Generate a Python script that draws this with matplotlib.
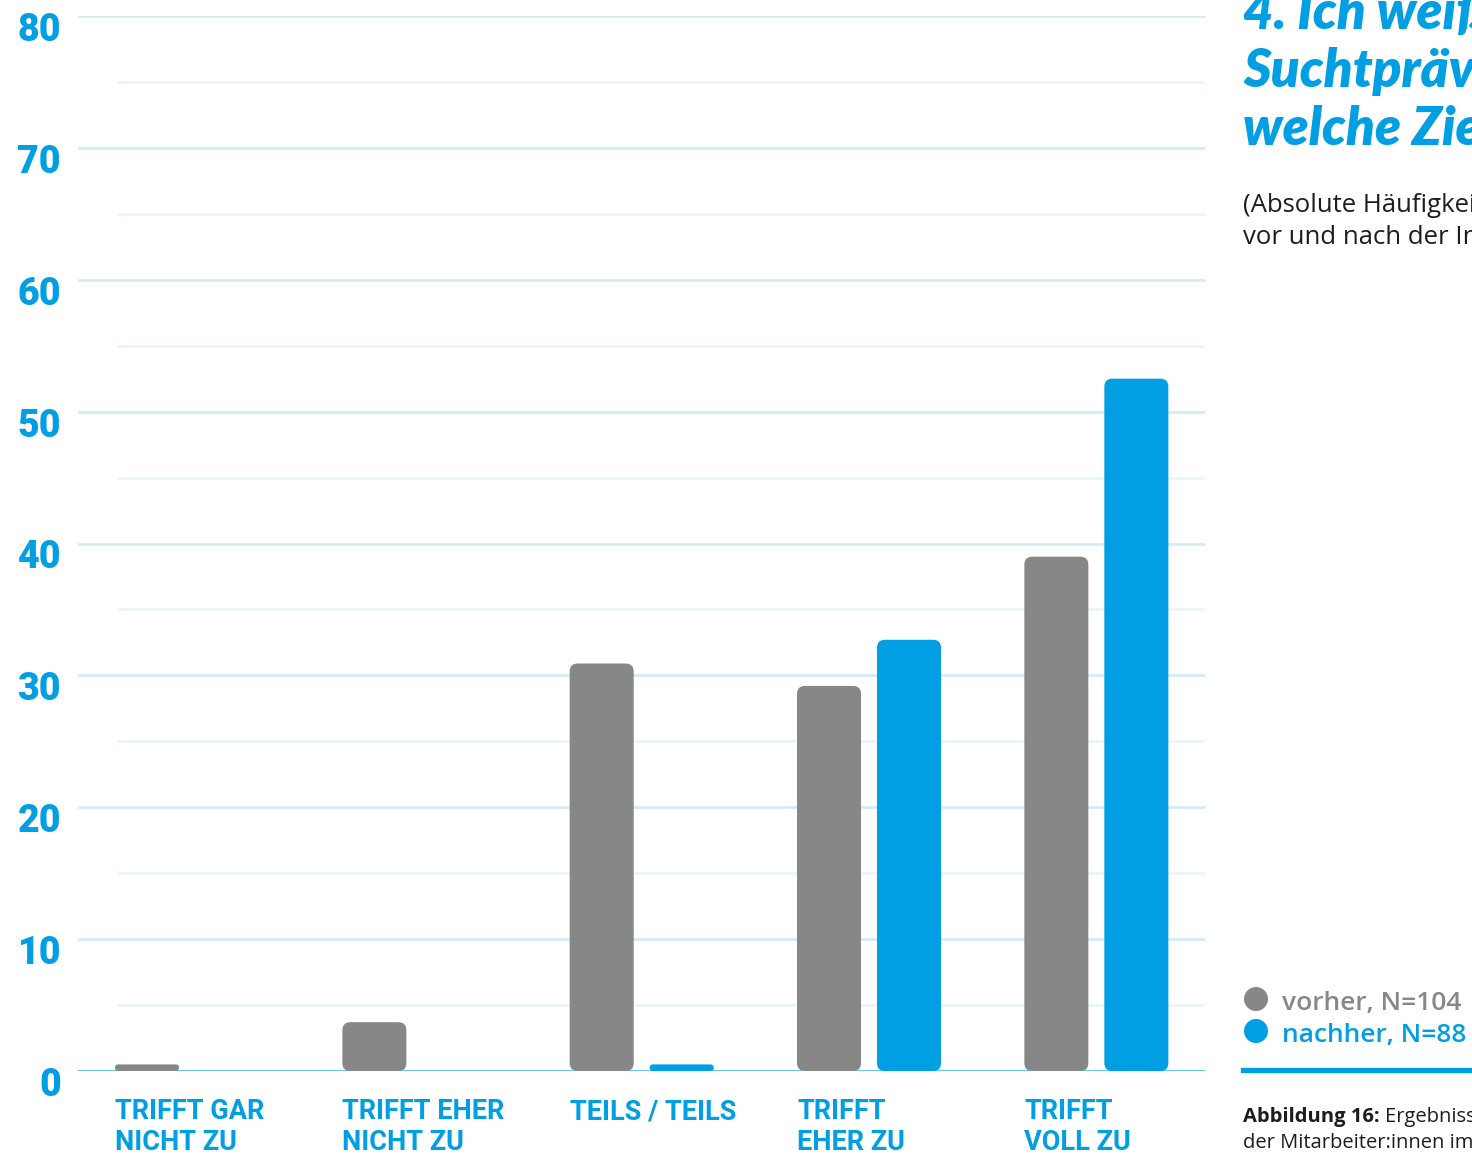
import matplotlib
matplotlib.use("Agg")
import matplotlib.pyplot as plt
import matplotlib.transforms as mtransforms
from matplotlib.patches import FancyBboxPatch, Ellipse
import numpy as np

# data
categories = ["TRIFFT GAR\nNICHT ZU", "TRIFFT EHER\nNICHT ZU", "TEILS / TEILS",
              "TRIFFT\nEHER ZU", "TRIFFT\nVOLL ZU"]
vorher = [0.5, 3.7, 30.9, 29.2, 39.0]
nachher = [0, 0, 0.5, 32.7, 52.5]
yticks = [0, 10, 20, 30, 40, 50, 60, 70, 80]
legend_labels = ["vorher, N=104", "nachher, N=88"]

BLUE = "#009fe3"
GRAY = "#878787"
GRID = "#d4eaf8"
GRID_MINOR = "#e9f5fc"
BASE = "#6cc6ef"

W, H = 1472, 1155
fig = plt.figure(figsize=(W / 100, H / 100), dpi=100)
ax = fig.add_axes([78 / W, 84 / H, 1127 / W, 1055 / H])

x = np.arange(len(categories))
ax.set_xlim(-0.4796, 4.478)
ax.set_ylim(0, 80)
ax.axis("off")

# pixels per data unit
px_x = 1127 / (4.478 + 0.4796)
px_y = 1055 / 80.0

bar_w = 64 / px_x
off = 40 / px_x

# grid
for v in range(10, 81, 10):
    ax.axhline(v, color=GRID, lw=1.9, zorder=0)
for v in range(5, 80, 10):
    ax.axhline(v, xmin=40 / 1127, color=GRID_MINOR, lw=1.9, zorder=0)
ax.axhline(0, color=BASE, lw=2.2, zorder=1)


def rounded_bars(xs, vals, color):
    for xc, v in zip(xs, vals):
        if v <= 0:
            continue
        r_px = min(8.0, v * px_y / 2)
        p = FancyBboxPatch((xc - bar_w / 2, 0), bar_w, v,
                           boxstyle="round,pad=0,rounding_size=%f" % (r_px / px_x),
                           mutation_aspect=px_x / px_y,
                           fc=color, ec="none", zorder=3)
        ax.add_patch(p)


rounded_bars(x - off, vorher, GRAY)
rounded_bars(x + off, nachher, BLUE)

# y labels
ylab_tr = mtransforms.offset_copy(
    mtransforms.blended_transform_factory(ax.transAxes, ax.transData),
    fig=fig, y=-18, units="points")
for v in yticks:
    ax.text(-17 / 1127, v, str(v), transform=ylab_tr, ha="right", va="baseline",
            fontsize=27, fontweight="heavy", color=BLUE, family="Roboto")

# category labels
xlab_tr = mtransforms.offset_copy(
    mtransforms.blended_transform_factory(ax.transData, ax.transAxes),
    fig=fig, y=-19.5, units="points")
for xc, lab in zip(x, categories):
    ax.text(xc - off - bar_w / 2, 0, lab, transform=xlab_tr, ha="left", va="top",
            fontsize=19.5, fontweight="bold", color=BLUE, family="Roboto",
            linespacing=1.2)

# right-hand panel
def ft(px, py, s, **kw):
    return fig.text(px / W, 1 - py / H, s, va="baseline", ha="left", **kw)

for i, line in enumerate(["4. Ich weiß,", "Suchtprävention", "welche Ziele"]):
    ft(1243, 28 + 58.5 * i, line, fontsize=38, fontweight="heavy", style="italic",
       color=BLUE, family="Lato")

ft(1243, 212, "(Absolute Häufigkeiten der Antworten", fontsize=18.5,
   color="#1d1d1b", family="Open Sans")
ft(1243, 243, "vor und nach der Intervention)", fontsize=18.5,
   color="#1d1d1b", family="Open Sans")

for i, (lab, col) in enumerate(zip(legend_labels, [GRAY, BLUE])):
    fig.patches.append(Ellipse((1256 / W, 1 - (999 + 32 * i) / H), 24 / W, 24 / H,
                               transform=fig.transFigure, fc=col, ec="none"))
    ft(1282, 1010 + 32 * i, lab, fontsize=19, fontweight="semibold", color=col,
       family="Open Sans")

fig.add_artist(plt.Line2D([1243 / W, 1], [1 - 1070 / H] * 2, color=BLUE, lw=3.8,
                          transform=fig.transFigure))

b = ft(1243, 1122, "Abbildung 16:", fontsize=14.5, fontweight="bold",
       color="#1d1d1b", family="Open Sans")
fig.canvas.draw()
bb = b.get_window_extent()
ft(bb.x1 + 5, 1122, "Ergebnisse der Befragung", fontsize=14.5,
   color="#1d1d1b", family="Open Sans")
ft(1243, 1148, "der Mitarbeiter:innen im Projekt", fontsize=14.5,
   color="#1d1d1b", family="Open Sans")

fig.savefig("out.png", dpi=100)
